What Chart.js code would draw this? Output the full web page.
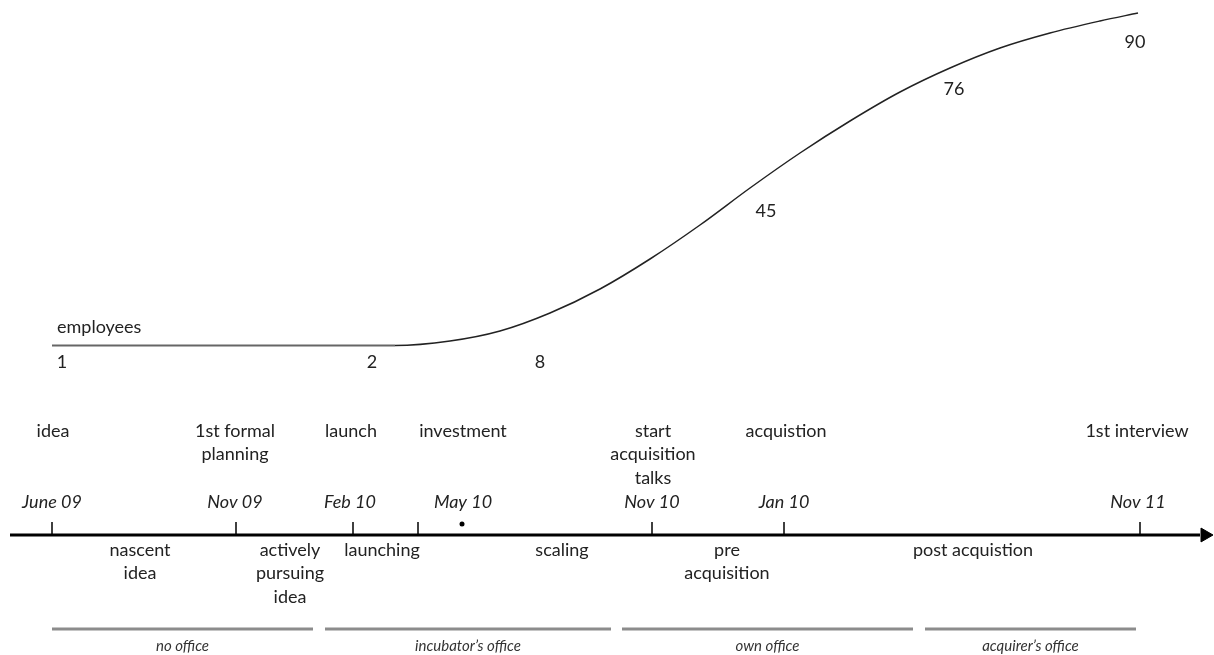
<!DOCTYPE html>
<html>
<head>
<meta charset="utf-8">
<title>Timeline</title>
<script src="https://cdn.jsdelivr.net/npm/chart.js@4.4.1/dist/chart.umd.min.js"></script>
<style>
  body { margin: 0; background: #fff; }
</style>
</head>
<body>
<canvas id="timeline" width="1214" height="655"></canvas>
<script>
// employee curve (timeline position, curve height)
var curveX = [52, 395, 450, 500, 550, 600, 650, 700, 750, 800, 850, 900, 950, 1000, 1050, 1100, 1138];
var curveY = [345.5, 345.5, 341, 331, 313, 289, 259, 225, 188, 153, 121, 92, 68, 48, 33, 21, 13];

// employee counts
var empLabels = ['1', '2', '8', '45', '76', '90'];
var empX = [62, 372, 540, 766, 954, 1135];
var empY = [362, 362, 362, 211, 89, 42];

// timeline milestones
var tickX = [52, 236, 353, 418, 652, 784, 1140];
var dateLabels = ['June 09', 'Nov 09', 'Feb 10', 'May 10', 'Nov 10', 'Jan 10', 'Nov 11'];
var dateX = [52, 235, 350, 463, 652, 784, 1138];
var events = [['idea'], ['1st formal', 'planning'], ['launch'], ['investment'], ['start', 'acquisition', 'talks'], ['acquistion'], ['1st interview']];
var eventX = [53, 235, 351, 463, 653, 786, 1137];
var dotX = [462];

// phases
var phases = [['nascent', 'idea'], ['actively', 'pursuing', 'idea'], ['launching'], ['scaling'], ['pre', 'acquisition'], ['post acquistion']];
var phaseX = [140, 290, 382, 562, 727, 973];

// offices
var offices = ['no office', "incubator\u2019s office", 'own office', "acquirer\u2019s office"];
var officeStart = [52, 325, 622, 925];
var officeEnd = [313, 611, 913, 1136];

var axisY = 535, tickY = 528.5, dateY = 502, eventY = 431, phaseY = 550, officeY = 629, officeLabelY = 646;

var officeSets = offices.map(function (o, i) {
  return {
    data: [{ x: officeStart[i], y: officeY }, { x: officeEnd[i], y: officeY }],
    borderColor: '#8c8c8c',
    borderWidth: 3,
    pointRadius: 0
  };
});

var textPlugin = {
  id: 'texts',
  afterDatasetsDraw: function (chart) {
    var ctx = chart.ctx, xs = chart.scales.x, ys = chart.scales.y;
    function put(lines, x, y, font, color, align, lh) {
      ctx.save();
      ctx.font = font;
      ctx.fillStyle = color;
      ctx.textAlign = align || 'center';
      ctx.textBaseline = 'middle';
      lines.forEach(function (t, k) {
        ctx.fillText(t, xs.getPixelForValue(x), ys.getPixelForValue(y + k * (lh || 23.5)));
      });
      ctx.restore();
    }
    var f = '18px Lato', fi = 'italic 18px Lato';
    put(['employees'], 57, 327, f, '#222', 'left');
    empLabels.forEach(function (t, i) { put([t], empX[i], empY[i], f, '#222'); });
    events.forEach(function (t, i) { put(t, eventX[i], eventY, f, '#222'); });
    dateLabels.forEach(function (t, i) { put([t], dateX[i], dateY, fi, '#222'); });
    phases.forEach(function (t, i) { put(t, phaseX[i], phaseY, f, '#222'); });
    offices.forEach(function (t, i) {
      put([t], (officeStart[i] + officeEnd[i]) / 2, officeLabelY, 'italic 15px Lato', '#333');
    });
  }
};

new Chart(document.getElementById('timeline'), {
  type: 'line',
  data: {
    datasets: [{
      data: curveX.map(function (x, i) { return { x: x, y: curveY[i] }; }),
      borderColor: '#222',
      borderWidth: 1.5,
      pointRadius: 0,
      cubicInterpolationMode: 'monotone',
      segment: {
        borderColor: function (c) { return c.p0DataIndex === 0 ? '#666' : '#222'; },
        borderWidth: function (c) { return c.p0DataIndex === 0 ? 2 : 1.5; }
      }
    }, {
      data: [{ x: 10, y: axisY }, { x: 1200, y: axisY }],
      borderColor: '#000',
      borderWidth: 3,
      pointRadius: 0
    }, {
      data: [{ x: 1205, y: axisY }],
      showLine: false,
      pointStyle: 'triangle',
      rotation: 90,
      pointRadius: 8,
      backgroundColor: '#000',
      borderColor: '#000',
      borderWidth: 1
    }, {
      data: tickX.map(function (x) { return { x: x, y: tickY }; }),
      showLine: false,
      pointStyle: 'line',
      rotation: 90,
      pointRadius: 6.5,
      borderColor: '#000',
      borderWidth: 1.5
    }, {
      data: dotX.map(function (x) { return { x: x, y: 524 }; }),
      showLine: false,
      pointRadius: 2.5,
      backgroundColor: '#000',
      borderColor: '#000',
      borderWidth: 0
    }].concat(officeSets)
  },
  options: {
    responsive: false,
    animation: false,
    devicePixelRatio: 1,
    layout: { padding: 0, autoPadding: false },
    plugins: { legend: { display: false }, tooltip: { enabled: false } },
    scales: {
      x: { type: 'linear', min: 0, max: 1214, display: false },
      y: { type: 'linear', min: 0, max: 655, reverse: true, display: false }
    }
  },
  plugins: [textPlugin]
});
</script>
</body>
</html>
